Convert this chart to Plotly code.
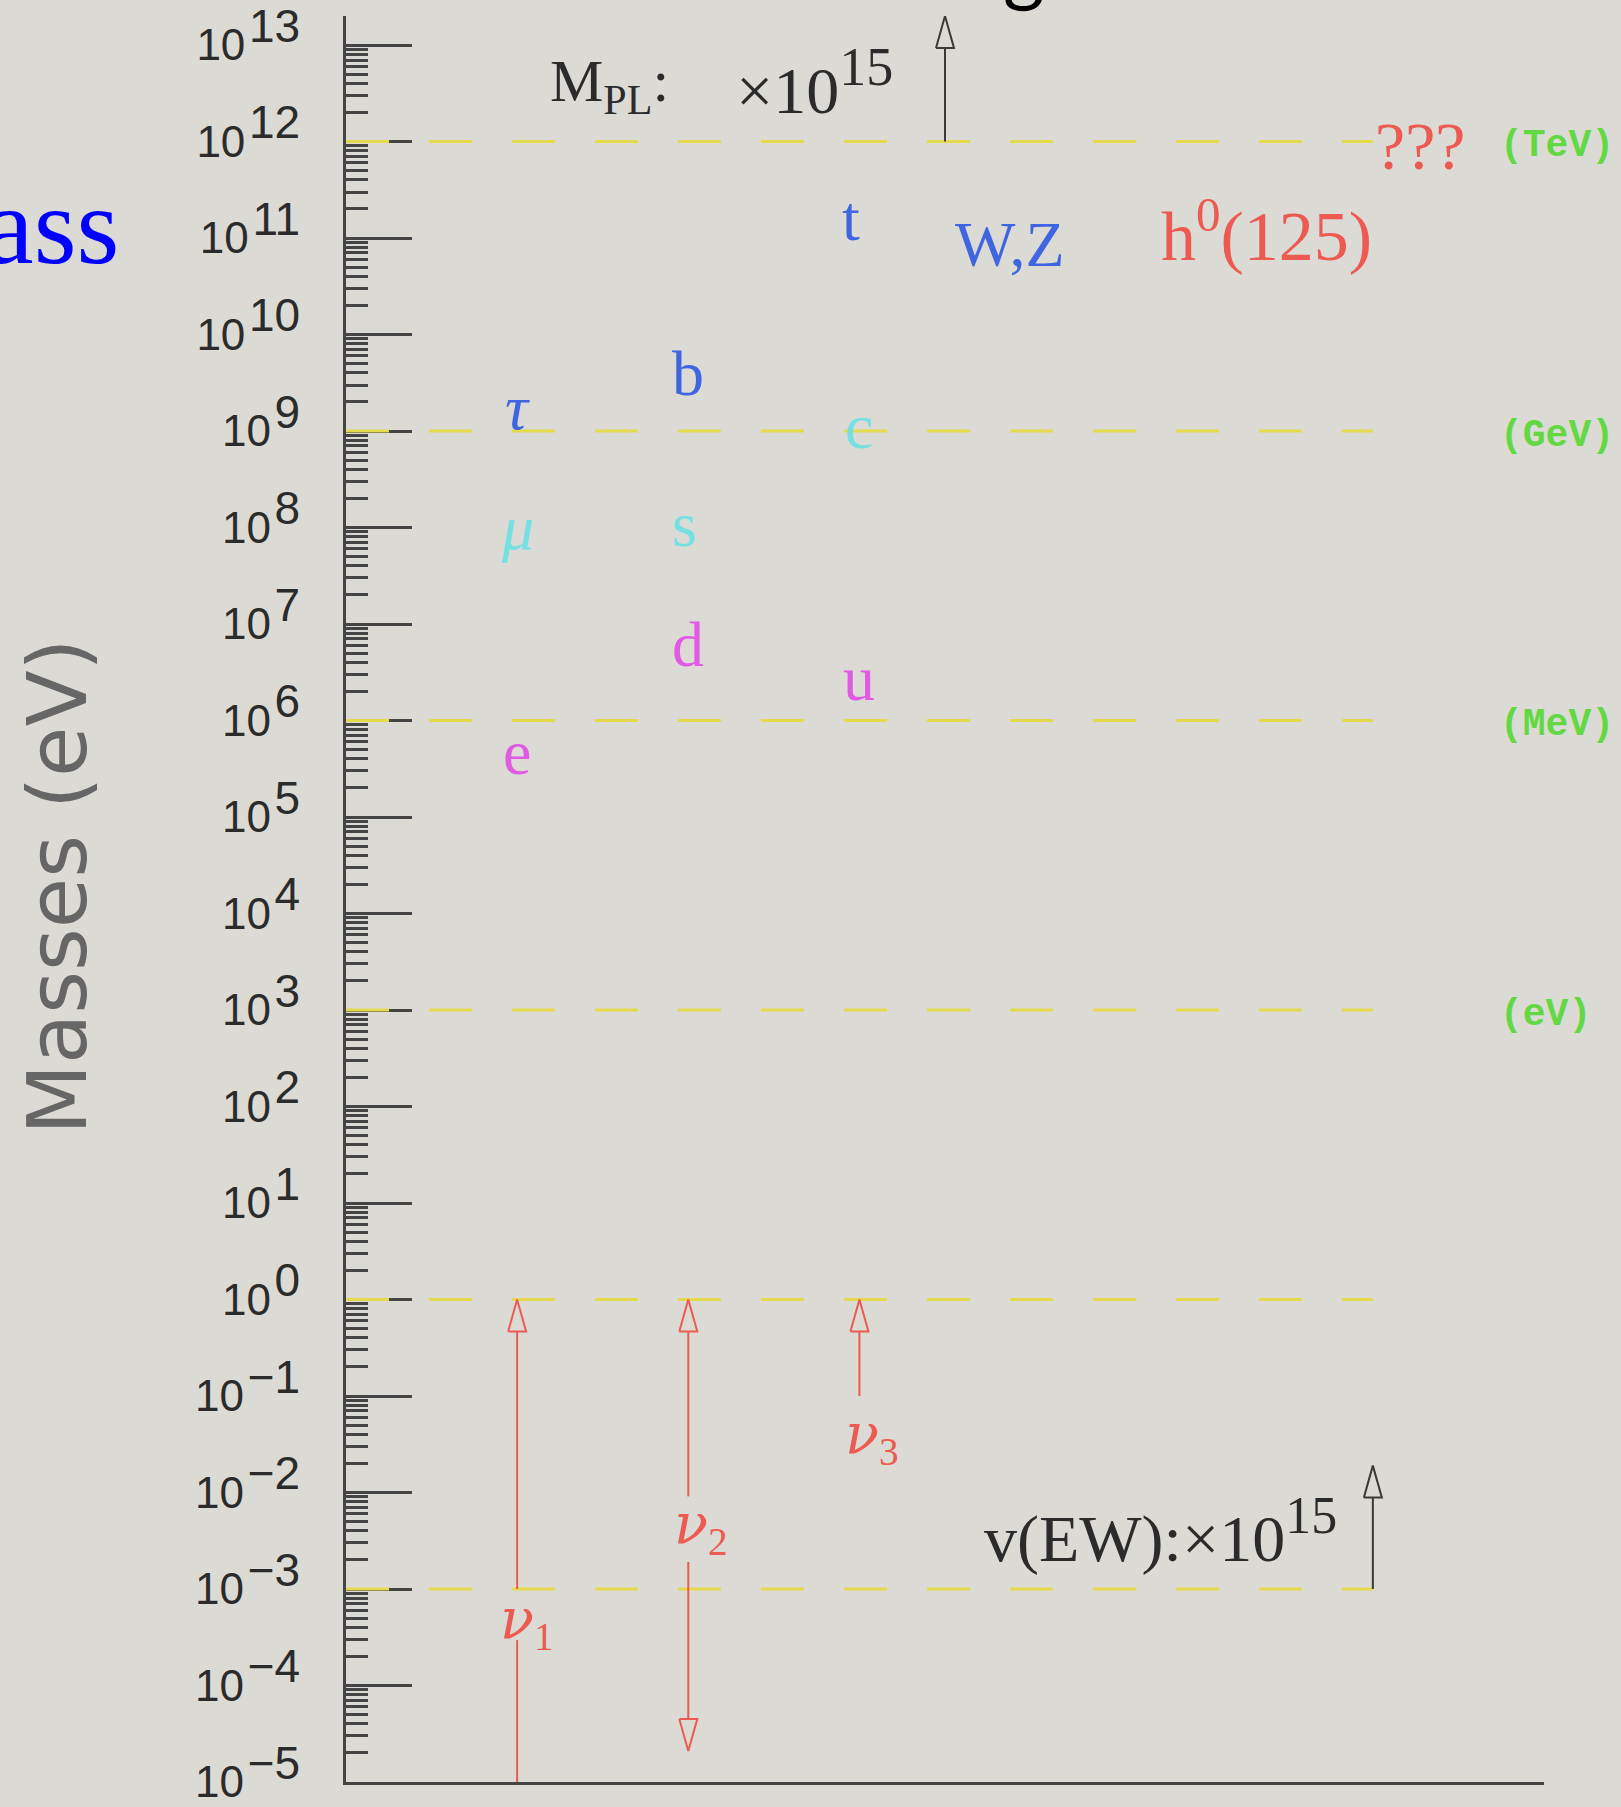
import math
import plotly.graph_objects as go

# ---------------- data ----------------
# Fermion / boson mass labels: text, column, mass (eV), colour key
particle_names = ["t", "W,Z", "h<sup>0</sup>(125)", "b", "<i>τ</i>", "c", "<i>μ</i>", "s", "d", "u", "e"]
particle_column = [2.95, 3.88, 5.38, 2, 1, 3, 1, 1.98, 2, 3, 1]
particle_mass_eV = [1.6e11, 8.6e10, 1.25e11, 3.95e9, 1.76e9, 1.12e9, 1.0e8, 1.08e8, 6.2e6, 2.7e6, 4.7e5]
particle_colour = ["blue", "blue", "red", "blue", "blue", "cyan", "cyan", "cyan",
                   "magenta", "magenta", "magenta"]

# Dashed reference levels and their unit names
scale_line_eV = [1e12, 1e9, 1e6, 1e3, 1e0, 1e-3]
unit_names = ["(TeV)", "(GeV)", "(MeV)", "(eV)"]
unit_line_eV = [1e12, 1e9, 1e6, 1e3]

# Neutrino mass ranges (eV)
nu_index = ["1", "2", "3"]
nu_column = [1, 2, 3]
nu_upper_eV = [1.0, 1.0, 1.0]
nu_lower_eV = [1e-5, 2.1e-5, 0.1]
nu_lower_head = [False, True, False]

# Off-scale pointers (scaled by 10^15)
mpl_column, mpl_from_eV, mpl_to_eV = 3.5, 1e12, 2e13
vew_column, vew_from_eV, vew_to_eV = 6.0, 1e-3, 1.9e-2

decades = list(range(-5, 14))

# ---------------- styling ----------------
BG = "#dcdad5"
AXIS = "#454545"
YELLOW = "#e3da4c"
PALETTE = {"blue": "#3f66e0", "red": "#ec5a52", "cyan": "#74e0e2", "magenta": "#e05ae4"}
GREEN = "#62d843"
BLACK_ARROW = "#3a3a3a"
INK = "#2b2b2b"
SERIF = "Liberation Serif"

X_RANGE = [0, 7]
Y_LOG_RANGE = [-5, math.log10(2e13) + 1e-6]
PLOT_W, PLOT_H = 1198, 1766
px_per_x = PLOT_W / (X_RANGE[1] - X_RANGE[0])
px_per_dec = PLOT_H / (Y_LOG_RANGE[1] - Y_LOG_RANGE[0])
HEAD_LEN = 32 / px_per_dec      # arrowhead length in decades
HEAD_HALF = 9 / px_per_x        # arrowhead half width in x units


def head(x, ly_tip, direction):
    """Open triangular arrowhead with tip at log-y ly_tip, pointing up (+1) or down (-1)."""
    base = ly_tip - direction * HEAD_LEN
    xs = [x - HEAD_HALF, x, x + HEAD_HALF, x - HEAD_HALF]
    ys = [base, ly_tip, base, base]
    return xs, ys


def arrow(x, y_from, y_to, head_to=True, head_from=False, gaps=()):
    """Polyline (with None breaks) for a vertical arrow between two masses."""
    lf, lt = math.log10(y_from), math.log10(y_to)
    d = 1 if lt > lf else -1
    s0 = lf + (d * HEAD_LEN if head_from else 0)
    s1 = lt - (d * HEAD_LEN if head_to else 0)
    lo, hi = min(s0, s1), max(s0, s1)
    cuts = [lo]
    for g0, g1 in sorted(gaps):
        cuts += [g0, g1]
    cuts.append(hi)
    xs, ys = [], []
    for a, b in zip(cuts[0::2], cuts[1::2]):
        xs += [x, x, None]
        ys += [a, b, None]
    if head_to:
        hx, hy = head(x, lt, d)
        xs += hx + [None]
        ys += hy + [None]
    if head_from:
        hx, hy = head(x, lf, -d)
        xs += hx + [None]
        ys += hy + [None]
    return xs, [None if v is None else 10 ** v for v in ys]


fig = go.Figure()

# dashed yellow reference levels
for lvl in scale_line_eV:
    fig.add_trace(go.Scatter(
        x=[0, 6.0], y=[lvl, lvl], mode="lines",
        line=dict(color=YELLOW, width=3, dash="43px,40px"),
        hoverinfo="skip"))

# neutrino arrows (gaps leave room for the labels)
nu_gaps = [[(-3.53, -3.0)], [(-2.72, -2.04)], []]
nx, ny = [], []
for col, up, low, lh, gp in zip(nu_column, nu_upper_eV, nu_lower_eV, nu_lower_head, nu_gaps):
    xs, ys = arrow(col, low, up, head_to=True, head_from=lh, gaps=gp)
    nx += xs
    ny += ys
fig.add_trace(go.Scatter(x=nx, y=ny, mode="lines",
                         line=dict(color=PALETTE["red"], width=2), hoverinfo="skip"))

# off-scale black arrows
bx, by = [], []
for col, a, b in [(mpl_column, mpl_from_eV, mpl_to_eV), (vew_column, vew_from_eV, vew_to_eV)]:
    xs, ys = arrow(col, a, b)
    bx += xs
    by += ys
fig.add_trace(go.Scatter(x=bx, y=by, mode="lines",
                         line=dict(color=BLACK_ARROW, width=2), hoverinfo="skip", cliponaxis=False))

annotations = []

# particle labels
for name, col, m, c in zip(particle_names, particle_column, particle_mass_eV, particle_colour):
    big = name.startswith("h")
    annotations.append(dict(
        x=col, y=math.log10(m), xref="x", yref="y", text=name, showarrow=False,
        xanchor="center", yanchor="middle", yshift=-2 if big else 0,
        font=dict(family=SERIF, size=70 if big else 64, color=PALETTE[c])))

# neutrino labels
NU = "<span style='font-family:DejaVu Serif'><i>ν</i></span>"
nu_label_pos = [(1.06, -3.34), (2.075, -2.36), (3.075, -1.42)]
for idx, (lx, ly) in zip(nu_index, nu_label_pos):
    annotations.append(dict(
        x=lx, y=ly, xref="x", yref="y", text=f"{NU}<sub>{idx}</sub>", showarrow=False,
        font=dict(family=SERIF, size=56, color=PALETTE["red"])))

# unit names at right
for u, lvl in zip(unit_names, unit_line_eV):
    annotations.append(dict(
        x=6.73, y=math.log10(lvl), xref="x", yref="y", text=f"<b>{u}</b>", showarrow=False,
        xanchor="left", yanchor="middle", yshift=-4,
        font=dict(family="Liberation Mono", size=38, color=GREEN)))

# unknown scale beyond TeV
annotations.append(dict(
    x=6.0, y=12, xref="x", yref="y", text="???", showarrow=False,
    xanchor="left", yanchor="middle", yshift=-4,
    font=dict(family=SERIF, size=68, color=PALETTE["red"])))

# off-scale annotations
annotations.append(dict(
    x=1.18, y=12.58, xref="x", yref="y", text="M<sub>PL</sub>:", showarrow=False,
    xanchor="left", yanchor="middle",
    font=dict(family=SERIF, size=60, color=INK)))
annotations.append(dict(
    x=2.27, y=12.62, xref="x", yref="y",
    text="×10<sup><span style='font-size:54px'>15</span></sup>", showarrow=False,
    xanchor="left", yanchor="middle",
    font=dict(family=SERIF, size=66, color=INK)))
annotations.append(dict(
    x=5.80, y=-2.40, xref="x", yref="y",
    text="v(EW):×10<sup><span style='font-size:52px'>15</span></sup>", showarrow=False,
    xanchor="right", yanchor="middle",
    font=dict(family=SERIF, size=66, color=INK)))

# axis title
annotations.append(dict(
    x=-0.2404, y=0.507, xref="paper", yref="paper", text="Masses (eV)", showarrow=False,
    textangle=-90, xanchor="center", yanchor="middle",
    font=dict(family="DejaVu Sans", size=82, color="#666666")))

# slide heading fragments at the page edges
annotations.append(dict(
    x=-0.1878, y=0.881, xref="paper", yref="paper", text="Mass", showarrow=False,
    xanchor="right", yanchor="middle",
    font=dict(family=SERIF, size=110, color="#0000ff")))
annotations.append(dict(
    x=0.5660, y=1.0007, xref="paper", yref="paper", text="g", showarrow=False,
    xanchor="center", yanchor="bottom",
    font=dict(family="Lato", size=80, color="#000000")))


def decade_label(k):
    e = str(k) if k >= 0 else "\u2212" + str(-k)
    return f"10\u200a<sup><span style='font-size:46px'>{e}</span></sup>"


major_vals = [10.0 ** k for k in decades]
major_text = [decade_label(k) for k in decades]
minor_vals = [m * 10.0 ** k for k in decades[:-1] for m in range(2, 10)] + [2e13]

fig.update_layout(
    width=1621, height=1807,
    margin=dict(l=346, r=77, t=16, b=25, pad=0, autoexpand=False),
    paper_bgcolor=BG, plot_bgcolor=BG,
    showlegend=False,
    annotations=annotations,
    xaxis=dict(range=X_RANGE, showgrid=False, zeroline=False, showticklabels=False,
               ticks="", showline=True, linecolor=AXIS, linewidth=3,
               layer="below traces", automargin=False),
    yaxis=dict(type="log", range=Y_LOG_RANGE, showgrid=False, zeroline=False,
               showline=True, linecolor=AXIS, linewidth=3,
               ticks="inside", ticklen=66, tickwidth=3, tickcolor=AXIS,
               tickmode="array", tickvals=major_vals, ticktext=major_text,
               tickfont=dict(family="Liberation Sans", size=44, color=INK),
               ticklabelstandoff=34, ticklabeloverflow="allow", automargin=False,
               minor=dict(ticks="inside", ticklen=22, tickwidth=2.5, tickcolor=AXIS,
                          tickmode="array", tickvals=minor_vals, showgrid=False),
               layer="below traces"),
)

fig.write_html("out.html")
